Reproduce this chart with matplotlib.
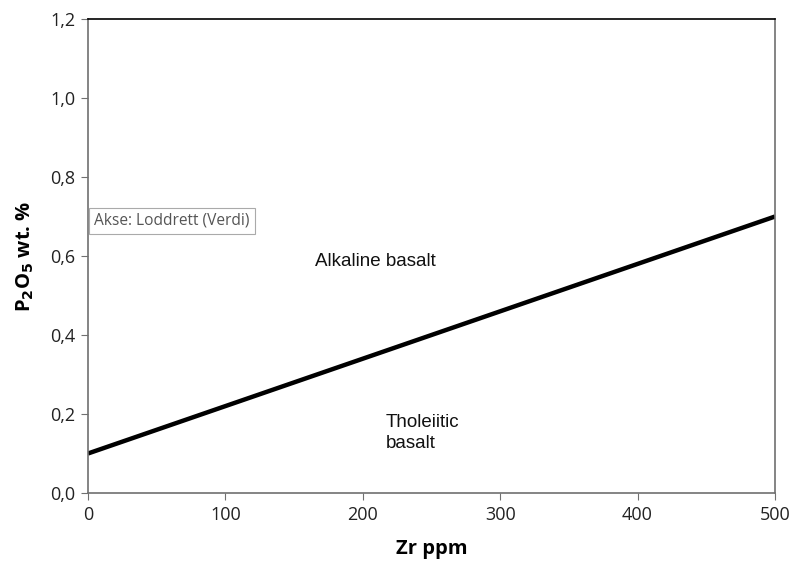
import matplotlib
matplotlib.use("Agg")
import matplotlib.pyplot as plt
import numpy as np

plt.rcParams.update({"font.family": ["Open Sans", "DejaVu Sans"], "font.size": 11})

zr = [0, 500]
p2o5 = [0.1, 0.7]
xticks = [0, 100, 200, 300, 400, 500]
yticks = [0.0, 0.2, 0.4, 0.6, 0.8, 1.0, 1.2]

fig = plt.figure(figsize=(7.92, 5.68), dpi=100)
ax = fig.add_axes([0.111, 0.132, 0.8675, 0.8345])
ax.plot(zr, p2o5, color="black", lw=3.2, solid_capstyle="butt")
ax.set_xlim(0, 500)
ax.set_ylim(0, 1.2)
ax.set_xticks(xticks)
ax.set_yticks(yticks)
ax.set_yticklabels([f"{v:.1f}".replace(".", ",") for v in yticks])
ax.tick_params(direction="out", length=5, color="#707070", labelcolor="#222222", labelsize=13, pad=4)
for s in ["left", "bottom", "right"]:
    ax.spines[s].set_color("#707070")
    ax.spines[s].set_linewidth(1.2)
ax.spines["top"].set_color("black")
ax.spines["top"].set_linewidth(1.2)

ax.set_xlabel("Zr ppm", fontweight="bold", fontsize=14.5, labelpad=11)
ax.set_ylabel(r"P$_\mathbf{2}$O$_\mathbf{5}$ wt. %", fontweight="bold", fontsize=14.5, labelpad=10)

annot = dict(fontsize=13.5, ha="left", va="center", color="#111111", family="Liberation Sans")
ax.text(165, 0.585, "Alkaline basalt", **annot)
ax.text(217, 0.152, "Tholeiitic\nbasalt", linespacing=1.35, **annot)

# chart-tool tooltip left in the screenshot
ax.text(0.009, 0.574, "Akse: Loddrett (Verdi)", transform=ax.transAxes, fontsize=11.2,
        color="#555555", ha="left", va="center",
        bbox=dict(boxstyle="square,pad=0.35", fc="white", ec="#aaaaaa", lw=0.8))

fig.savefig("out.png", dpi=100)
